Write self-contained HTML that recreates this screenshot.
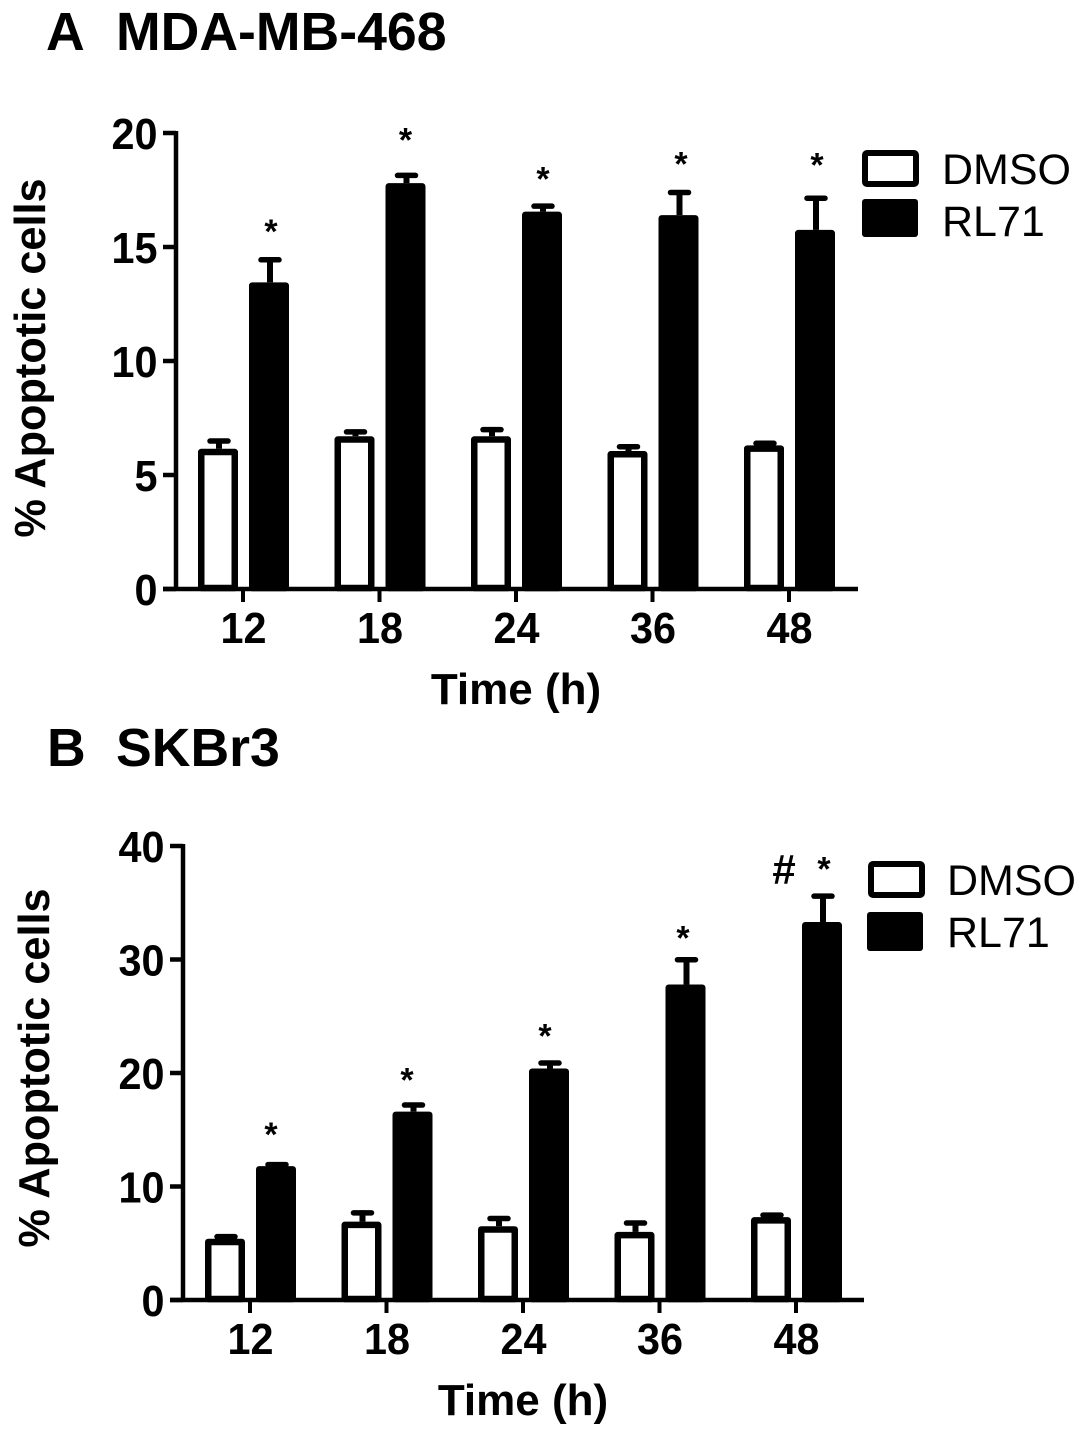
<!DOCTYPE html>
<html>
<head>
<meta charset="utf-8">
<title>Apoptotic cells chart</title>
<style>
html,body{margin:0;padding:0;background:#fff;width:1087px;height:1436px;overflow:hidden}
svg{display:block}
text{font-family:"Liberation Sans",Arial,sans-serif;fill:#000}
.b{font-weight:bold}
</style>
</head>
<body>
<svg id="chart" width="1087" height="1436" viewBox="0 0 1087 1436" xmlns="http://www.w3.org/2000/svg">
  <g id="panelA">
    <text class="b" x="46" y="50" font-size="53.6">A</text>
    <text class="b" x="116" y="50" font-size="53.6">MDA-MB-468</text>
    <text class="b" x="516" y="704" font-size="44" text-anchor="middle">Time (h)</text>
    <text class="b" x="0" y="0" font-size="43.3" text-anchor="middle" transform="translate(45,358) rotate(-90)">% Apoptotic cells</text>
    <rect x="865" y="153" width="51" height="31" rx="2" fill="#fff" stroke="#000" stroke-width="6" stroke-linejoin="round"/>
    <rect x="862" y="199" width="56" height="38" rx="3" fill="#000"/>
    <text x="942" y="184" font-size="43">DMSO</text>
    <text x="942" y="236" font-size="43">RL71</text>
  </g>
  <g id="panelB">
    <text class="b" x="47" y="766" font-size="53.6">B</text>
    <text class="b" x="116" y="766" font-size="53.6">SKBr3</text>
    <text class="b" x="523" y="1415" font-size="44" text-anchor="middle">Time (h)</text>
    <text class="b" x="0" y="0" font-size="43.3" text-anchor="middle" transform="translate(49,1068) rotate(-90)">% Apoptotic cells</text>
    <rect x="871" y="864" width="51" height="31" rx="2" fill="#fff" stroke="#000" stroke-width="6" stroke-linejoin="round"/>
    <rect x="867" y="912" width="56" height="39" rx="3" fill="#000"/>
    <text x="947" y="895" font-size="43">DMSO</text>
    <text x="947" y="947" font-size="43">RL71</text>
    <text class="b" x="784" y="884" font-size="42" text-anchor="middle">#</text>
  </g>
</svg>
<script>
var categories = ['12', '18', '24', '36', '48'];

var ticksA = [0, 5, 10, 15, 20];
var dmsoA = [6.15, 6.7, 6.7, 6.05, 6.3];
var dmsoErrA = [0.45, 0.3, 0.4, 0.3, 0.2];
var rl71A = [13.45, 17.8, 16.55, 16.4, 15.75];
var rl71ErrA = [1.1, 0.45, 0.35, 1.1, 1.5];
var starLevelA = [15.8, 19.8, 18.1, 18.75, 18.7];

var ticksB = [0, 10, 20, 30, 40];
var dmsoB = [5.4, 6.9, 6.5, 6.0, 7.3];
var dmsoErrB = [0.4, 1.0, 0.9, 1.0, 0.4];
var rl71B = [11.8, 16.6, 20.4, 27.8, 33.3];
var rl71ErrB = [0.35, 0.8, 0.7, 2.4, 2.5];
var starLevelB = [14.8, 19.6, 23.5, 32.1, 38.2];

var NS = 'http://www.w3.org/2000/svg';

function make(parent, tag, attrs) {
  var el = document.createElementNS(NS, tag);
  for (var k in attrs) { el.setAttribute(k, attrs[k]); }
  parent.appendChild(el);
  return el;
}

function drawPanel(parent, suffix, g, ticks, dmso, dmsoErr, rl71, rl71Err, starLevel) {
  var yMax = ticks[ticks.length - 1];
  function yScale(v) { return g.y0 + (g.yTop - g.y0) * v / yMax; }
  function xScale(i) { return g.x0 + g.step * i; }

  function drawBar(i, values, errs, series, dx) {
    var cx = xScale(i) + dx;
    var top = yScale(values[i]);
    var errTop = yScale(values[i] + errs[i]);
    var whisker = make(parent, 'line', {x1: cx + 1, x2: cx + 1, y1: top, y2: errTop, stroke: '#000', 'stroke-width': 6});
    
    
    var cap = make(parent, 'line', {x1: cx - 8, x2: cx + 10, y1: errTop + 2.5, y2: errTop + 2.5, stroke: '#000', 'stroke-width': 5.5, 'stroke-linecap': 'round'});
    
    
    var bar = make(parent, 'rect', {x: cx - 16.75, y: top + 3.25, width: 33.5, height: g.y0 - top - 4.25,
      fill: series === 'dmso' ? '#fff' : '#000', stroke: '#000', 'stroke-width': 6.5, 'stroke-linejoin': 'round'});
    
    
  }

  for (var i = 0; i < categories.length; i++) {
    drawBar(i, dmso, dmsoErr, 'dmso', -25);
    drawBar(i, rl71, rl71Err, 'rl71', 26);

    var star = make(parent, 'text', {x: xScale(i) + g.starDx[i], y: yScale(starLevel[i]) + 14, 'font-size': 34, 'text-anchor': 'middle', 'class': 'b'});
    star.textContent = '*';
    
    

    var tick = make(parent, 'line', {x1: xScale(i), x2: xScale(i), y1: g.y0, y2: g.y0 + 13, stroke: '#000', 'stroke-width': 4});
    
    

    var xl = make(parent, 'text', {x: xScale(i) + 0.5, y: g.y0 + 54, 'font-size': 44, 'text-anchor': 'middle', 'class': 'b', textLength: 46, lengthAdjust: 'spacingAndGlyphs'});
    xl.textContent = categories[i];
    
    
  }

  var xAxis = make(parent, 'line', {x1: g.axisX - 13, x2: g.xEnd, y1: g.y0, y2: g.y0, stroke: '#000', 'stroke-width': 4.5});
  
  

  var yAxis = make(parent, 'line', {x1: g.axisX, x2: g.axisX, y1: g.yTop - 2, y2: g.y0 + 2, stroke: '#000', 'stroke-width': 4.5});
  
  

  ticks.forEach(function (t) {
    var yt = make(parent, 'line', {x1: g.axisX - 13, x2: g.axisX, y1: yScale(t), y2: yScale(t), stroke: '#000', 'stroke-width': 4.5});
    
    
    var label = String(t);
    var yl = make(parent, 'text', {x: g.axisX - 18.5, y: yScale(t) + 16, 'font-size': 44, 'text-anchor': 'end', 'class': 'b', textLength: 23 * label.length, lengthAdjust: 'spacingAndGlyphs'});
    yl.textContent = label;
    
    
  });
}

drawPanel(document.getElementById('panelA'), 'a',
  {x0: 243, step: 136.5, y0: 589, yTop: 133, axisX: 176, xEnd: 858, starDx: [28, 26, 27, 28.5, 28]},
  ticksA, dmsoA, dmsoErrA, rl71A, rl71ErrA, starLevelA);

drawPanel(document.getElementById('panelB'), 'b',
  {x0: 250, step: 136.5, y0: 1300, yTop: 846, axisX: 183, xEnd: 864, starDx: [21, 20.5, 22, 23.5, 28]},
  ticksB, dmsoB, dmsoErrB, rl71B, rl71ErrB, starLevelB);
</script>
</body>
</html>
